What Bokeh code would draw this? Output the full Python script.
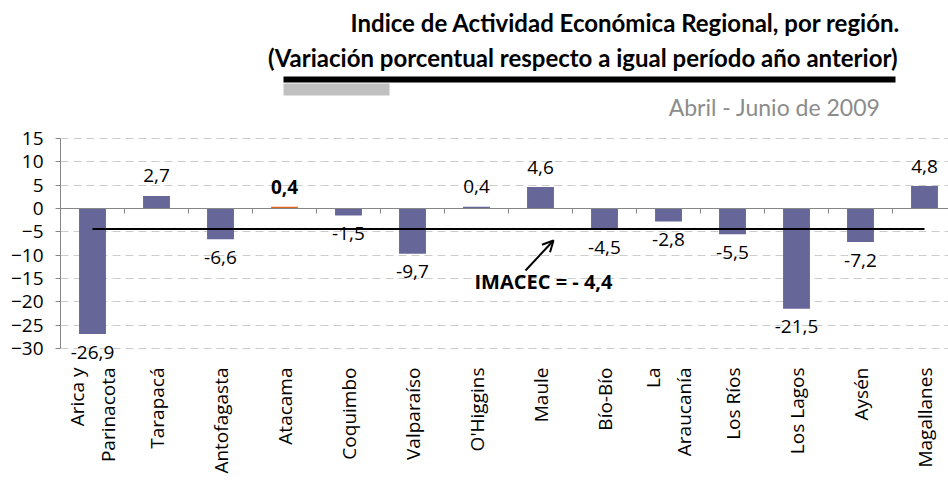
import numpy as np
from bokeh.plotting import figure
from bokeh.models import ColumnDataSource, Range1d, FixedTicker, Span, Arrow, OpenHead, Label
from bokeh.core.properties import value
from bokeh.embed import file_html
from bokeh.resources import INLINE

# ---------------- data ----------------
regions = ["Arica y\nParinacota", "Tarapacá", "Antofagasta", "Atacama", "Coquimbo",
           "Valparaíso", "O'Higgins", "Maule", "Bío-Bío", "La\nAraucanía",
           "Los Ríos", "Los Lagos", "Aysén", "Magallanes"]
variation = [-26.9, 2.7, -6.6, 0.4, -1.5, -9.7, 0.4, 4.6, -4.5, -2.8, -5.5, -21.5, -7.2, 4.8]
highlight = "Atacama"
imacec = -4.4
y_ticks = [-30, -25, -20, -15, -10, -5, 0, 5, 10, 15]
title_1 = "Indice de Actividad Económica Regional, por región."
title_2 = "(Variación porcentual respecto a igual período año anterior)"
period = "Abril - Junio de 2009"

# ---------------- styles / layout ----------------
FONT = "Open Sans"
TFONT = "Lato"
BAR = "#666699"
HIGHLIGHT = "#E0661E"
AXIS = "#868686"

LEFT = 60          # frame left (px)
CAT_W = 64         # px per category
FRAME_W = 888
FRAME_TOP = 2
FRAME_BOTTOM = 366
ZERO_PX = 208
PPU = 70 / 15      # px per value unit
FRAME_H = FRAME_BOTTOM - FRAME_TOP
y_lo = -(FRAME_BOTTOM - ZERO_PX) / PPU
y_hi = (ZERO_PX - FRAME_TOP) / PPU


def dx(px):
    return (px - LEFT) / CAT_W


def dy(py):
    return (ZERO_PX - py) / PPU


n = len(regions)
centers = [i + 0.5 for i in range(n)]
src = ColumnDataSource(dict(
    x=centers,
    v=variation,
    color=[HIGHLIGHT if r == highlight else BAR for r in regions],
    label=[f"{v:.1f}".replace(".", ",") for v in variation],
    off=[-20 if v >= 0 else 18 for v in variation],
    fstyle=["bold" if r == highlight else "normal" for r in regions],
))

p = figure(frame_width=FRAME_W, frame_height=FRAME_H,
           x_range=Range1d(0, FRAME_W / CAT_W), y_range=Range1d(y_lo, y_hi),
           toolbar_location=None, output_backend="svg",
           min_border_left=LEFT, min_border_top=FRAME_TOP, min_border_right=0,
           min_border_bottom=0, outline_line_color=None)

p.xgrid.visible = False
p.ygrid.ticker = FixedTicker(ticks=y_ticks)
p.ygrid.grid_line_color = "#CCCCCC"
p.ygrid.grid_line_dash = "8 5"
p.ygrid.grid_line_width = 1

ya = p.yaxis[0]
ya.ticker = FixedTicker(ticks=y_ticks)
ya.bounds = (min(y_ticks), max(y_ticks))
ya.axis_line_color = AXIS
ya.major_tick_line_color = AXIS
ya.major_tick_out = 5
ya.major_tick_in = 0
ya.minor_tick_line_color = None
ya.major_label_standoff = 12
ya.major_label_text_font = FONT
ya.major_label_text_font_size = "19px"
ya.major_label_text_color = "#000000"

xa = p.xaxis[0]
xa.ticker = FixedTicker(ticks=centers)
xa.major_label_overrides = {c: r for c, r in zip(centers, regions)}
xa.axis_line_color = None
xa.major_tick_line_color = None
xa.minor_tick_line_color = None
xa.major_tick_out = 0
xa.major_tick_in = 0
xa.major_label_standoff = 1
xa.major_label_orientation = np.pi / 2
xa.major_label_text_font = FONT
xa.major_label_text_font_size = "19px"
xa.major_label_text_color = "#000000"

# ---------------- header (drawn in the frame above the value axis) ----------------
p.text(x=[dx(900)], y=[dy(22)], text=[title_1], text_align="right", text_baseline="alphabetic",
       text_font=value(TFONT), text_font_size="24px", text_font_style="bold", text_color="#000000")
p.text(x=[dx(897)], y=[dy(57)], text=[title_2], text_align="right", text_baseline="alphabetic",
       text_font=value(TFONT), text_font_size="24px", text_font_style="bold", text_color="#000000")
p.quad(left=[dx(283)], right=[dx(895)], top=[dy(76)], bottom=[dy(82)],
       fill_color="#000000", line_color=None)
p.quad(left=[dx(283)], right=[dx(389)], top=[dy(83)], bottom=[dy(95)],
       fill_color="#C0C0C0", line_color=None)
p.text(x=[dx(880)], y=[dy(106)], text=[period], text_align="right", text_baseline="alphabetic",
       text_font=value(TFONT), text_font_size="23px", text_color="#8C8C8C")

# ---------------- bars ----------------
p.vbar(x="x", top="v", bottom=0, width=0.42, fill_color="color", line_color=None, source=src)

# zero line with tick marks between categories
p.add_layout(Span(location=0, dimension="width", line_color=AXIS, line_width=1))
p.ray(x=list(range(1, n)), y=[0] * (n - 1), length=5, length_units="screen",
      angle=-np.pi / 2, line_color=AXIS, line_width=1)

# IMACEC line
p.segment(x0=[centers[0]], y0=[imacec], x1=[centers[-1]], y1=[imacec],
          line_color="#000000", line_width=2)

# value labels
p.text(x="x", y="v", text="label", y_offset="off", source=src,
       text_align="center", text_baseline="alphabetic",
       text_font=value(FONT), text_font_size="19px", text_font_style="fstyle",
       text_color="#000000")

# annotation
p.add_layout(Arrow(end=OpenHead(size=11, line_width=2, line_color="#000000"),
                   x_start=dx(525), y_start=dy(270), x_end=dx(553), y_end=dy(240),
                   line_width=2, line_color="#000000"))
p.add_layout(Label(x=dx(543), y=dy(281), text=f"IMACEC = - {abs(imacec):.1f}".replace(".", ","),
                   text_align="center", text_baseline="alphabetic",
                   text_font=FONT, text_font_size="20px", text_font_style="bold",
                   text_color="#000000"))

open("out.html", "w").write(file_html(p, INLINE))
